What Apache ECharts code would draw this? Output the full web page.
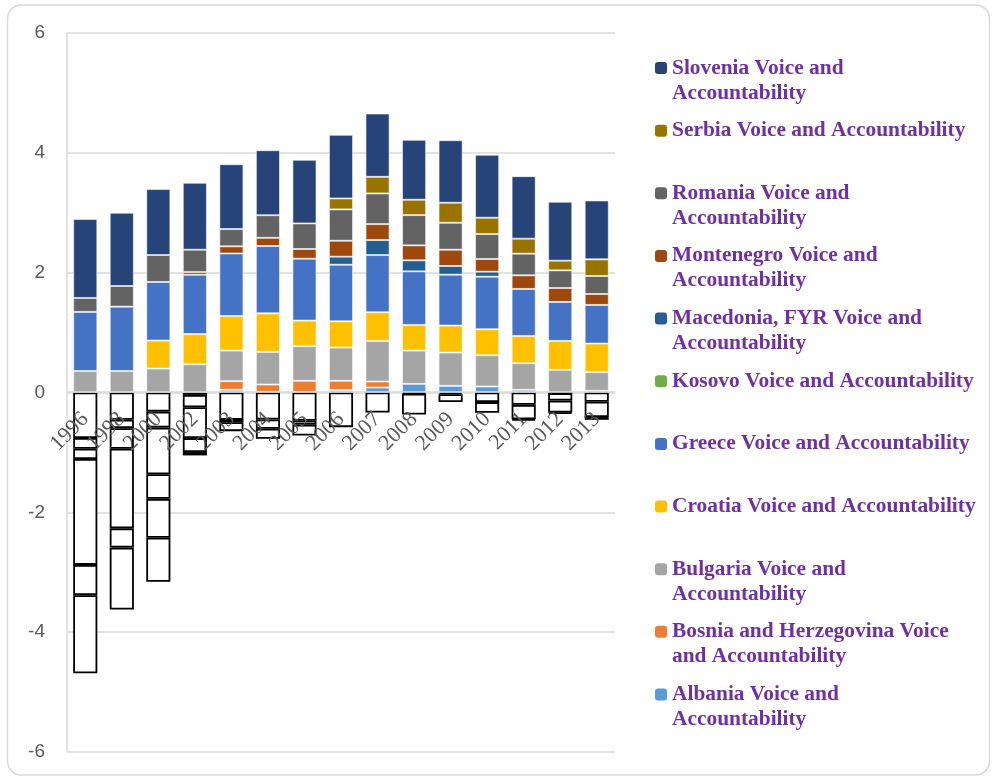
<!DOCTYPE html>
<html><head><meta charset="utf-8">
<script src="https://cdn.jsdelivr.net/npm/echarts@6/dist/echarts.min.js"></script>
<style>html,body{margin:0;padding:0;background:#fff}#c{width:993px;height:777px}</style>
</head><body><div id="c"></div>
<script>
const years = ['1996','1998','2000','2002','2003','2004','2005','2006','2007','2008','2009','2010','2011','2012','2013'];
const albania    = [-0.76,-0.456,-0.32,-0.04,0.045,0.01,0.01,0.04,0.083,0.144,0.111,0.10,0.045,-0.01,0.028];
const bosnia     = [-0.18,-0.139,-0.266,-0.205,0.145,0.123,0.185,0.155,0.10,-0.02,-0.03,-0.16,-0.206,-0.125,-0.155];
const bulgaria   = [0.36,0.36,0.40,0.47,0.51,0.545,0.577,0.555,0.678,0.556,0.556,0.522,0.444,0.378,0.311];
const croatia    = [-0.17,-0.345,0.467,0.505,0.578,0.643,0.428,0.439,0.478,0.428,0.45,0.434,0.455,0.483,0.478];
const greece     = [0.985,1.073,0.978,0.99,1.042,1.123,1.033,0.944,0.955,0.894,0.85,0.877,0.784,0.65,0.644];
const kosovo     = [-1.767,-1.327,-0.778,-0.516,-0.457,-0.45,-0.472,-0.578,-0.333,-0.347,-0.13,-0.18,-0.24,-0.2,-0.255];
const macedonia  = [-0.505,-0.322,-0.411,-0.233,-0.04,-0.156,-0.067,0.134,0.25,0.184,0.144,0.084,-0.02,-0.02,-0.045];
const montenegro = [null,null,-0.65,0.045,0.12,0.138,0.162,0.266,0.267,0.25,0.272,0.211,0.228,0.233,0.183];
const romania    = [0.233,0.345,0.45,0.373,0.288,0.377,0.427,0.523,0.511,0.505,0.45,0.416,0.361,0.295,0.300];
const serbia     = [-1.305,-1.033,-0.733,-0.056,-0.148,-0.167,-0.178,0.183,0.278,0.256,0.334,0.273,0.25,0.161,0.278];
const slovenia   = [1.317,1.222,1.10,1.117,1.082,1.085,1.061,1.061,1.056,1.0,1.044,1.05,1.044,0.983,0.984];

const seriesNames = [
  'Albania Voice and Accountability',
  'Bosnia and Herzegovina Voice and Accountability',
  'Bulgaria Voice and Accountability',
  'Croatia Voice and Accountability',
  'Greece Voice and Accountability',
  'Kosovo Voice and Accountability',
  'Macedonia, FYR Voice and Accountability',
  'Montenegro Voice and Accountability',
  'Romania Voice and Accountability',
  'Serbia Voice and Accountability',
  'Slovenia Voice and Accountability'
];
const legendLabels = [
  'Albania Voice and\nAccountability',
  'Bosnia and Herzegovina Voice\nand Accountability',
  'Bulgaria Voice and\nAccountability',
  'Croatia Voice and Accountability',
  'Greece Voice and Accountability',
  'Kosovo Voice and Accountability',
  'Macedonia, FYR Voice and\nAccountability',
  'Montenegro Voice and\nAccountability',
  'Romania Voice and\nAccountability',
  'Serbia Voice and Accountability',
  'Slovenia Voice and\nAccountability'
];
const seriesValues = [albania,bosnia,bulgaria,croatia,greece,kosovo,macedonia,montenegro,romania,serbia,slovenia];
const colors = ['#5B9BD5','#ED7D31','#A5A5A5','#FFC000','#4472C4','#70AD47','#255E91','#9E480E','#636363','#997300','#264478'];

const series = seriesNames.map((name, i) => ({
  name: name,
  type: 'bar',
  stack: 'total',
  barCategoryGap: '34%',
  itemStyle: { color: colors[i], borderColor: 'rgba(255,255,255,0.55)', borderWidth: 1 },
  data: seriesValues[i].map(v => v == null ? '-' :
    (v < 0 ? { value: v, itemStyle: { color: '#ffffff', borderColor: '#000000', borderWidth: 1.8 } } : v))
}));

const LH = 25;
const legends = [];
for (let k = 0; k < seriesNames.length; k++) {
  const i = seriesNames.length - 1 - k; // reversed order
  const center = 68 + 62.65 * k;
  const twoLine = legendLabels[i].indexOf('\n') >= 0;
  legends.push({
    orient: 'vertical',
    left: 655,
    top: twoLine ? center - 1.5 * LH : center - 0.5 * LH,
    padding: 0,
    itemWidth: 12,
    itemHeight: 12,
    selectedMode: false,
    itemStyle: { borderWidth: 0 },
    data: [seriesNames[i]],
    formatter: () => (twoLine ? ' \n' : '') + legendLabels[i],
    textStyle: { fontFamily: 'Liberation Serif', fontWeight: 'bold', fontSize: 21.4, color: '#7030A0', lineHeight: LH }
  });
}

const chart = echarts.init(document.getElementById('c'), null, { renderer: 'canvas' });
chart.setOption({
  animation: false,
  backgroundColor: '#ffffff',
  grid: { left: 67, top: 33, width: 548, height: 719, containLabel: false, outerBoundsMode: 'none' },
  graphic: [{
    type: 'rect', silent: true, z: -10,
    shape: { x: 7.5, y: 5, width: 982, height: 770, r: 14 },
    style: { fill: 'none', stroke: '#d9d9d9', lineWidth: 1.5 }
  }],
  legend: legends,
  xAxis: {
    type: 'category',
    data: years,
    z: 10,
    offset: -360,
    axisLine: { onZero: false, lineStyle: { color: '#d9d9d9', width: 1.5 } },
    axisTick: { show: false },
    axisLabel: { rotate: 45, margin: 24, fontFamily: 'Liberation Serif', fontSize: 22, color: '#595959', interval: 0 }
  },
  yAxis: {
    type: 'value',
    min: -6, max: 6, interval: 2,
    axisLine: { show: true, lineStyle: { color: '#d9d9d9', width: 1.5 } },
    axisTick: { show: false },
    splitLine: { lineStyle: { color: '#d9d9d9', width: 1.5 } },
    axisLabel: { margin: 22, fontFamily: 'Liberation Sans', fontSize: 19, color: '#595959' }
  },
  series: series
});
</script>
</body></html>
